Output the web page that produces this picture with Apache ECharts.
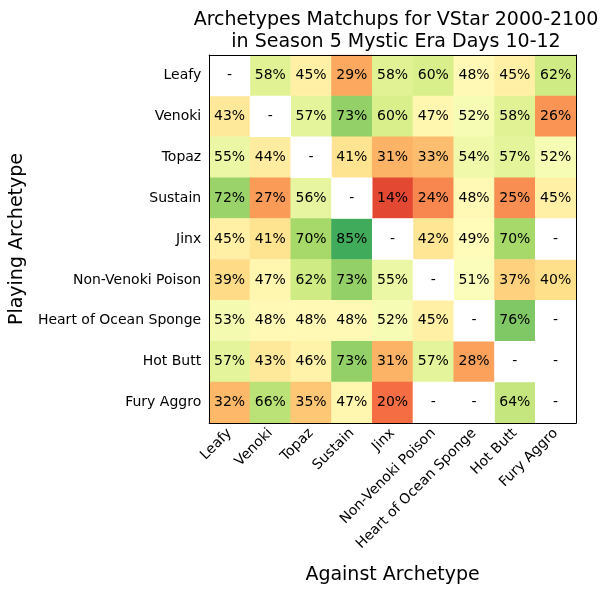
<!DOCTYPE html>
<html style="height: 100%">
<head>
    <meta charset="utf-8">
</head>
<body style="height: 100%; margin: 0">
<div id="container" style="width: 608px; height: 593px"></div>
<script type="text/javascript" src="https://cdn.jsdelivr.net/npm/echarts@6/dist/echarts.min.js"></script>
<script type="text/javascript">
    var archetypes = ['Leafy', 'Venoki', 'Topaz', 'Sustain', 'Jinx', 'Non-Venoki Poison',
        'Heart of Ocean Sponge', 'Hot Butt', 'Fury Aggro'];

    // win rate of playing archetype (row) against archetype (column), null = no data
    var leafy     = [null, 58, 45, 29, 58, 60, 48, 45, 62];
    var venoki    = [43, null, 57, 73, 60, 47, 52, 58, 26];
    var topaz     = [55, 44, null, 41, 31, 33, 54, 57, 52];
    var sustain   = [72, 27, 56, null, 14, 24, 48, 25, 45];
    var jinx      = [45, 41, 70, 85, null, 42, 49, 70, null];
    var nvPoison  = [39, 47, 62, 73, 55, null, 51, 37, 40];
    var sponge    = [53, 48, 48, 48, 52, 45, null, 76, null];
    var hotButt   = [57, 43, 46, 73, 31, 57, 28, null, null];
    var furyAggro = [32, 66, 35, 47, 20, null, null, 64, null];

    var rows = [leafy, venoki, topaz, sustain, jinx, nvPoison, sponge, hotButt, furyAggro];

    // RdYlGn
    var rdYlGn = ['#a50026', '#d73027', '#f46d43', '#fdae61', '#fee08b', '#ffffbf',
        '#d9ef8b', '#a6d96a', '#66bd63', '#1a9850', '#006837'];

    var cells = [];
    var empty = [];
    for (var r = 0; r < rows.length; r++) {
        for (var c = 0; c < rows[r].length; c++) {
            if (rows[r][c] === null) {
                empty.push([c, r, 0]);
            } else {
                cells.push([c, r, rows[r][c]]);
            }
        }
    }

    var font = 'DejaVu Sans';
    var dom = document.getElementById("container");
    var myChart = echarts.init(dom);
    var option = {
        animation: false,
        textStyle: {fontFamily: font},
        title: {
            text: 'Archetypes Matchups for VStar 2000-2100\nin Season 5 Mystic Era Days 10-12',
            left: 391,
            top: 4,
            textAlign: 'center',
            textStyle: {fontFamily: font, fontSize: 19, fontWeight: 'normal', color: '#000', lineHeight: 22}
        },
        grid: {left: 207, top: 55, width: 369, height: 368},
        xAxis: [{
            type: 'category',
            data: archetypes,
            position: 'bottom',
            z: 10,
            name: 'Against Archetype',
            nameLocation: 'middle',
            nameGap: 143,
            nameTextStyle: {fontFamily: font, fontSize: 19, color: '#000'},
            axisLine: {lineStyle: {color: '#000', width: 1}},
            axisTick: {alignWithLabel: true, length: 5, lineStyle: {color: '#000'}},
            axisLabel: {rotate: 45, margin: 8, fontFamily: font, fontSize: 14, color: '#000'},
            splitLine: {show: false}
        }, {
            type: 'category',
            data: archetypes,
            position: 'top',
            z: 10,
            axisLine: {lineStyle: {color: '#000', width: 1}},
            axisTick: {show: false},
            axisLabel: {show: false}
        }],
        yAxis: [{
            type: 'category',
            data: archetypes,
            inverse: true,
            position: 'left',
            z: 10,
            name: 'Playing Archetype',
            nameLocation: 'middle',
            nameGap: 175,
            nameTextStyle: {fontFamily: font, fontSize: 19, color: '#000'},
            axisLine: {lineStyle: {color: '#000', width: 1}},
            axisTick: {alignWithLabel: true, length: 5, lineStyle: {color: '#000'}},
            axisLabel: {margin: 8, fontFamily: font, fontSize: 14, color: '#000'},
            splitLine: {show: false}
        }, {
            type: 'category',
            data: archetypes,
            inverse: true,
            position: 'right',
            z: 10,
            axisLine: {lineStyle: {color: '#000', width: 1}},
            axisTick: {show: false},
            axisLabel: {show: false}
        }],
        visualMap: {
            show: false,
            type: 'continuous',
            min: 0,
            max: 100,
            dimension: 2,
            seriesIndex: 0,
            inRange: {color: rdYlGn}
        },
        series: [{
            type: 'heatmap',
            data: cells,
            label: {
                show: true,
                fontFamily: font,
                fontSize: 14,
                color: '#000',
                formatter: function (p) { return p.value[2] + '%'; }
            },
            emphasis: {disabled: true}
        }, {
            type: 'heatmap',
            data: empty,
            itemStyle: {color: '#fff'},
            label: {
                show: true,
                fontFamily: font,
                fontSize: 14,
                color: '#000',
                formatter: '-'
            },
            emphasis: {disabled: true}
        }]
    };
    myChart.setOption(option);
</script>
</body>
</html>
